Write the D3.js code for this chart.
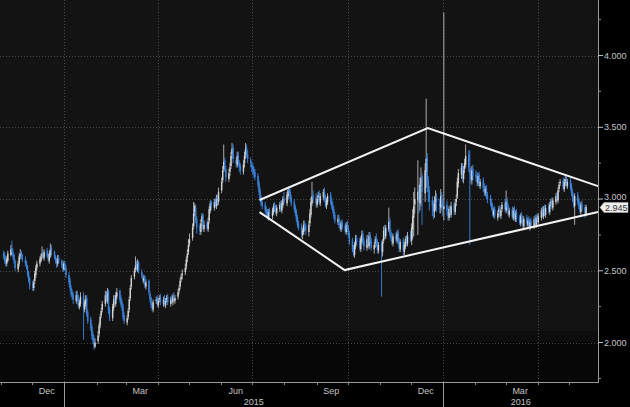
<!DOCTYPE html>
<html><head><meta charset="utf-8">
<script src="https://cdn.jsdelivr.net/npm/d3@7"></script>
<style>html,body{margin:0;padding:0;background:#000;} svg{display:block;}</style>
</head><body><svg id="c" width="630" height="407"></svg>
<script>
// ---------- DATA ----------
const months = ["2014-11","2014-12","2015-01","2015-02","2015-03","2015-04","2015-05","2015-06","2015-07","2015-08","2015-09","2015-10","2015-11","2015-12","2016-01","2016-02","2016-03","2016-04","2016-05"];

const open = [
 [2.62,2.61,2.58,2.55,2.57,2.61,2.66,2.63,2.61,2.57,2.51,2.55,2.60,2.63,2.61,2.58,2.56,2.53,2.49,2.45],
 [2.41,2.38,2.43,2.47,2.52,2.55,2.57,2.60,2.63,2.59,2.64,2.61,2.57,2.61,2.66,2.63,2.60,2.58,2.55,2.59,2.57,2.55,2.51],
 [2.55,2.52,2.47,2.43,2.38,2.35,2.33,2.29,2.34,2.31,2.25,2.27,2.33,2.23,2.27,2.31,2.21,2.16,2.11,2.06,2.03,1.97],
 [2.01,2.06,2.12,2.19,2.23,2.27,2.34,2.29,2.36,2.23,2.17,2.24,2.31,2.27,2.32,2.36,2.31,2.28,2.25,2.19],
 [2.14,2.18,2.23,2.31,2.39,2.46,2.51,2.55,2.51,2.56,2.49,2.46,2.43,2.46,2.39,2.43,2.34,2.31,2.27,2.23,2.29,2.31],
 [2.26,2.30,2.32,2.27,2.31,2.26,2.30,2.32,2.27,2.31,2.28,2.33,2.29,2.32,2.36,2.39,2.44,2.47,2.49,2.53,2.59,2.63],
 [2.69,2.73,2.81,2.91,2.94,2.86,2.81,2.77,2.84,2.89,2.79,2.83,2.79,2.85,2.92,2.98,2.94,2.99,2.95,3.01,2.98],
 [3.06,3.13,3.21,3.27,3.21,3.14,3.19,3.23,3.31,3.36,3.27,3.24,3.31,3.25,3.23,3.19,3.25,3.31,3.36,3.31,3.27,3.24],
 [3.23,3.21,3.19,3.16,3.11,3.06,3.01,2.98,2.96,2.93,2.91,2.87,2.92,2.88,2.91,2.96,2.94,2.90,2.93,2.97,2.92,2.96,3.01],
 [2.97,3.02,3.07,3.05,3.01,2.98,2.94,2.91,2.87,2.83,2.81,2.75,2.77,2.83,2.81,2.77,2.83,2.89,2.97,3.03,3.01],
 [2.96,3.01,3.04,2.97,3.01,3.06,3.01,2.95,2.98,3.03,2.99,2.96,2.93,2.89,2.84,2.87,2.83,2.79,2.84,2.81,2.77,2.83],
 [2.80,2.76,2.71,2.66,2.61,2.67,2.73,2.71,2.65,2.71,2.76,2.71,2.66,2.73,2.67,2.75,2.71,2.65,2.69,2.73,2.70,2.64],
 [2.69,2.63,2.71,2.79,2.74,2.79,2.85,2.77,2.74,2.69,2.75,2.71,2.77,2.71,2.65,2.71,2.63,2.67,2.73,2.69,2.75],
 [2.71,2.79,2.87,2.96,2.99,3.06,2.97,3.09,3.16,3.04,3.19,3.29,3.13,3.06,2.99,2.96,2.91,2.98,3.01,2.97,2.94,3.03,2.97],
 [2.93,2.96,2.91,2.87,2.94,2.89,2.96,2.91,2.98,3.02,3.11,3.17,3.23,3.14,3.21,3.24,3.31,3.21,3.19,3.13,3.21],
 [3.17,3.16,3.11,3.17,3.09,3.13,3.09,3.04,3.08,3.03,3.01,2.98,2.95,2.89,2.93,2.87,2.91,2.94,2.88,2.93,2.97],
 [2.92,2.99,2.95,2.89,2.93,2.87,2.93,2.86,2.91,2.87,2.83,2.89,2.86,2.81,2.87,2.82,2.86,2.80,2.85,2.81,2.87,2.82,2.88],
 [2.84,2.87,2.93,2.88,2.94,2.89,2.95,2.91,2.97,2.99,2.94,2.98,3.03,2.99,3.07,3.11,3.13,3.07,3.11,3.15,3.09],
 [3.13,3.09,3.05,3.01,2.95,3.03,2.99,2.96,2.91,2.97,2.94,2.89]
];
const high = [
 [2.64,2.63,2.60,2.60,2.64,2.68,2.71,2.65,2.62,2.58,2.57,2.62,2.65,2.64,2.62,2.60,2.57,2.54,2.50,2.46],
 [2.43,2.44,2.50,2.54,2.57,2.60,2.62,2.67,2.64,2.65,2.66,2.62,2.64,2.69,2.68,2.64,2.61,2.59,2.61,2.61,2.58,2.56,2.57],
 [2.57,2.54,2.49,2.45,2.40,2.37,2.35,2.36,2.36,2.33,2.30,2.35,2.35,2.30,2.33,2.33,2.23,2.18,2.13,2.08,2.05,2.03],
 [2.08,2.14,2.20,2.24,2.29,2.36,2.36,2.38,2.37,2.25,2.27,2.33,2.33,2.35,2.38,2.37,2.33,2.30,2.27,2.21],
 [2.19,2.24,2.32,2.40,2.47,2.52,2.60,2.57,2.58,2.57,2.51,2.48,2.47,2.47,2.44,2.44,2.36,2.32,2.29,2.30,2.32,2.33],
 [2.31,2.33,2.34,2.32,2.33,2.31,2.33,2.34,2.32,2.33,2.34,2.35,2.33,2.37,2.40,2.45,2.48,2.51,2.55,2.60,2.65,2.72],
 [2.76,2.83,2.98,2.97,2.96,2.88,2.83,2.86,2.90,2.90,2.85,2.85,2.87,2.95,2.99,2.99,3.00,3.01,3.03,3.03,3.08],
 [3.15,3.23,3.38,3.29,3.23,3.21,3.25,3.33,3.39,3.38,3.29,3.33,3.33,3.27,3.25,3.27,3.33,3.39,3.38,3.34,3.29,3.26],
 [3.25,3.23,3.21,3.18,3.13,3.08,3.03,3.00,2.98,2.95,2.93,2.93,2.94,2.94,2.97,2.98,2.96,2.96,2.98,2.99,2.99,3.02,3.05],
 [3.05,3.08,3.09,3.07,3.03,3.00,2.96,2.93,2.89,2.85,2.83,2.80,2.85,2.85,2.83,2.85,2.93,3.01,3.12,3.06,3.04],
 [3.02,3.05,3.06,3.04,3.07,3.08,3.03,3.01,3.04,3.05,3.01,2.98,2.95,2.91,2.89,2.89,2.85,2.85,2.86,2.83,2.84,2.85],
 [2.82,2.78,2.73,2.68,2.70,2.75,2.75,2.73,2.74,2.78,2.78,2.73,2.75,2.75,2.77,2.77,2.73,2.70,2.74,2.76,2.72,2.70],
 [2.71,2.72,2.81,2.82,2.82,2.94,2.87,2.79,2.76,2.76,2.77,2.78,2.79,2.73,2.72,2.73,2.70,2.74,2.75,2.77,2.78],
 [2.83,2.93,3.05,3.08,3.27,3.10,3.15,3.22,3.18,3.25,3.70,3.32,3.16,3.09,3.02,2.99,3.02,3.06,3.04,3.00,3.07,3.05,3.00],
 [4.30,2.99,2.94,2.95,2.96,2.98,2.98,3.00,3.03,3.15,3.21,3.25,3.25,3.23,3.28,3.38,3.34,3.34,3.22,3.23,3.24],
 [3.20,3.19,3.18,3.19,3.14,3.15,3.11,3.09,3.10,3.05,3.03,3.00,2.97,2.94,2.95,2.92,2.95,2.96,2.94,2.98,3.00],
 [3.06,3.01,2.97,2.94,2.95,2.94,2.95,2.92,2.93,2.89,2.90,2.91,2.88,2.88,2.89,2.87,2.88,2.86,2.87,2.88,2.89,2.89,2.90],
 [2.90,2.94,2.95,2.95,2.96,2.96,2.97,2.98,3.00,3.01,3.01,3.04,3.05,3.08,3.12,3.14,3.15,3.14,3.16,3.17,3.14],
 [3.15,3.11,3.07,3.03,3.04,3.05,3.01,2.98,2.98,2.99,2.96,2.96]
];
const low = [
 [2.58,2.55,2.53,2.53,2.56,2.60,2.61,2.58,2.55,2.50,2.49,2.53,2.58,2.58,2.56,2.53,2.51,2.46,2.42,2.37],
 [2.36,2.36,2.41,2.45,2.50,2.53,2.56,2.58,2.58,2.57,2.59,2.56,2.55,2.59,2.60,2.58,2.55,2.52,2.53,2.55,2.52,2.49,2.50],
 [2.50,2.45,2.40,2.36,2.32,2.30,2.27,2.27,2.28,2.24,2.23,2.25,2.02,2.21,2.25,2.18,2.13,2.08,2.02,1.99,1.95,1.96],
 [1.99,2.04,2.10,2.17,2.21,2.25,2.28,2.27,2.20,2.15,2.15,2.22,2.26,2.25,2.30,2.28,2.25,2.22,2.16,2.13],
 [2.12,2.16,2.21,2.29,2.37,2.44,2.49,2.50,2.49,2.48,2.45,2.42,2.41,2.38,2.37,2.33,2.28,2.24,2.22,2.21,2.27,2.25],
 [2.24,2.28,2.26,2.25,2.25,2.24,2.28,2.26,2.25,2.27,2.26,2.28,2.27,2.30,2.34,2.37,2.42,2.44,2.47,2.51,2.56,2.61],
 [2.67,2.71,2.79,2.88,2.83,2.76,2.75,2.75,2.81,2.78,2.77,2.78,2.77,2.83,2.90,2.92,2.92,2.94,2.93,2.95,2.96],
 [3.04,3.11,3.19,3.19,3.12,3.12,3.16,3.21,3.28,3.25,3.22,3.22,3.23,3.19,3.17,3.17,3.22,3.28,3.29,3.25,3.22,3.19],
 [3.17,3.15,3.13,3.08,3.03,2.98,2.95,2.93,2.90,2.88,2.86,2.85,2.87,2.86,2.89,2.91,2.89,2.88,2.91,2.91,2.90,2.94,2.96],
 [2.95,3.00,3.02,2.98,2.95,2.91,2.88,2.84,2.80,2.78,2.73,2.72,2.75,2.78,2.75,2.74,2.81,2.87,2.95,2.97,2.94],
 [2.94,2.99,2.96,2.95,2.99,2.98,2.94,2.93,2.96,2.96,2.93,2.90,2.86,2.83,2.82,2.80,2.78,2.77,2.78,2.76,2.75,2.77],
 [2.73,2.68,2.63,2.60,2.59,2.65,2.68,2.64,2.63,2.69,2.68,2.64,2.64,2.66,2.65,2.68,2.64,2.62,2.66,2.67,2.62,2.62],
 [2.32,2.60,2.69,2.72,2.72,2.77,2.74,2.71,2.68,2.67,2.70,2.69,2.68,2.63,2.63,2.61,2.61,2.65,2.67,2.67,2.70],
 [2.68,2.72,2.74,2.90,2.75,2.90,2.92,2.95,2.82,2.98,3.08,3.05,2.98,2.92,2.88,2.86,2.87,2.92,2.91,2.90,2.90,2.92,2.88],
 [2.85,2.89,2.85,2.85,2.87,2.87,2.89,2.89,2.95,3.00,3.08,3.14,3.12,3.11,3.18,3.22,3.19,2.68,3.11,3.10,3.13],
 [3.12,3.09,3.09,3.08,3.07,3.05,3.02,3.02,3.00,2.97,2.95,2.92,2.88,2.87,2.86,2.85,2.88,2.87,2.86,2.91,2.91],
 [2.90,2.92,2.88,2.87,2.86,2.85,2.85,2.84,2.84,2.82,2.81,2.83,2.80,2.79,2.81,2.80,2.79,2.78,2.80,2.79,2.81,2.80,2.83],
 [2.82,2.85,2.87,2.86,2.88,2.87,2.90,2.89,2.95,2.93,2.92,2.96,2.98,2.97,3.05,3.09,3.06,3.05,3.09,3.08,3.07],
 [3.06,3.02,2.98,2.94,2.82,2.96,2.93,2.90,2.89,2.91,2.87,2.88]
];
const close = [
 [2.60,2.57,2.55,2.58,2.62,2.65,2.63,2.60,2.57,2.52,2.55,2.60,2.62,2.60,2.58,2.55,2.53,2.48,2.44,2.40],
 [2.38,2.42,2.48,2.52,2.55,2.58,2.60,2.62,2.60,2.63,2.60,2.58,2.62,2.65,2.62,2.60,2.57,2.55,2.58,2.57,2.54,2.52,2.55],
 [2.52,2.47,2.42,2.38,2.34,2.32,2.30,2.33,2.30,2.26,2.28,2.32,2.24,2.28,2.30,2.20,2.15,2.10,2.05,2.02,1.98,2.00],
 [2.05,2.12,2.18,2.22,2.27,2.33,2.30,2.35,2.22,2.18,2.25,2.30,2.28,2.33,2.35,2.30,2.27,2.24,2.18,2.15],
 [2.17,2.22,2.30,2.38,2.45,2.50,2.54,2.52,2.55,2.50,2.47,2.44,2.45,2.40,2.42,2.35,2.30,2.26,2.24,2.28,2.30,2.27],
 [2.29,2.31,2.28,2.30,2.27,2.29,2.31,2.28,2.30,2.29,2.32,2.30,2.31,2.35,2.38,2.43,2.46,2.48,2.52,2.58,2.62,2.68],
 [2.72,2.80,2.90,2.95,2.85,2.80,2.78,2.83,2.88,2.80,2.82,2.80,2.84,2.93,2.97,2.95,2.98,2.96,3.00,2.97,3.05],
 [3.12,3.20,3.26,3.22,3.15,3.18,3.22,3.30,3.35,3.28,3.25,3.30,3.26,3.22,3.20,3.24,3.30,3.35,3.32,3.28,3.25,3.22],
 [3.20,3.18,3.15,3.10,3.05,3.00,2.97,2.95,2.92,2.90,2.88,2.91,2.89,2.92,2.95,2.93,2.91,2.94,2.96,2.93,2.97,3.00,2.98],
 [3.03,3.06,3.04,3.00,2.97,2.93,2.90,2.86,2.82,2.80,2.76,2.78,2.82,2.80,2.78,2.82,2.90,2.98,3.02,3.00,2.97],
 [3.00,3.03,2.98,3.02,3.05,3.00,2.96,2.99,3.02,2.98,2.95,2.92,2.88,2.85,2.86,2.82,2.80,2.83,2.80,2.78,2.82,2.79],
 [2.75,2.70,2.65,2.62,2.68,2.72,2.70,2.66,2.72,2.75,2.70,2.67,2.72,2.68,2.74,2.70,2.66,2.68,2.72,2.69,2.65,2.68],
 [2.64,2.70,2.78,2.75,2.80,2.84,2.76,2.73,2.70,2.74,2.72,2.76,2.70,2.66,2.70,2.64,2.68,2.72,2.70,2.74,2.72],
 [2.80,2.88,2.95,3.00,3.05,2.98,3.10,3.15,3.05,3.20,3.28,3.12,3.05,2.98,2.95,2.92,2.97,3.00,2.98,2.95,3.02,2.96,2.94],
 [2.95,2.92,2.88,2.93,2.90,2.95,2.92,2.97,3.00,3.12,3.18,3.22,3.15,3.20,3.25,3.30,3.22,3.18,3.14,3.20,3.16],
 [3.15,3.12,3.16,3.10,3.12,3.08,3.05,3.07,3.02,3.00,2.97,2.94,2.90,2.92,2.88,2.90,2.93,2.89,2.92,2.96,2.93],
 [2.98,2.94,2.90,2.92,2.88,2.92,2.87,2.90,2.86,2.84,2.88,2.85,2.82,2.86,2.83,2.85,2.81,2.84,2.82,2.86,2.83,2.87,2.85],
 [2.88,2.92,2.89,2.93,2.90,2.94,2.92,2.96,2.98,2.95,2.99,3.02,3.00,3.06,3.10,3.12,3.08,3.12,3.14,3.10,3.12],
 [3.08,3.04,3.00,2.96,3.02,2.98,2.95,2.92,2.96,2.93,2.90,2.945]
];

const yTicks = [2.0, 2.5, 3.0, 3.5, 4.0];
const yMinor = [1.75, 2.25, 2.75, 3.25, 3.75, 4.25];
const monthLabels = [["2014-12","Dec"],["2015-03","Mar"],["2015-06","Jun"],["2015-09","Sep"],["2015-12","Dec"],["2016-03","Mar"]];
const yearLabels = ["2015","2016"];
const gridDates = ["2015-01-01","2015-04-01","2015-07-01","2015-10-01","2016-01-01","2016-04-01"];
const trendUpper = [["2015-07-08",2.993],["2015-12-17",3.495],["2016-05-29",3.09]];
const trendLower = [["2015-07-08",2.909],["2015-09-28",2.505],["2016-05-29",2.91]];
const lastLabel = "2.945";
// background shading bands (value ranges)
const bands = [[2.08, 4.387, "#131313"], [2.0, 2.08, "#0d0d0d"], [1.725, 2.0, "#070707"]];

// ---------- CHART ----------
const W = 630, H = 407, plotR = 598, plotB = 382;
const pd = s => { const [a,b,c] = s.split("-").map(Number); return new Date(Date.UTC(a,b-1,c||1)); };
const x = d3.scaleUtc().domain([pd("2014-10-31"), pd("2016-05-29")]).range([0, plotR]);
const y = d3.scaleLinear().domain([1.725, 4.387]).range([plotB, 0]);

const candles = [];
months.forEach((m, i) => {
  const [yy, mm] = m.split("-").map(Number);
  const n = close[i].length;
  if (open[i].length !== n || high[i].length !== n || low[i].length !== n) throw new Error("length mismatch " + m);
  let k = 0;
  for (let d = 1; d <= 31 && k < n; d++) {
    const dt = new Date(Date.UTC(yy, mm - 1, d));
    if (dt.getUTCMonth() !== mm - 1) break;
    const wd = dt.getUTCDay();
    if (wd === 0 || wd === 6) continue;
    candles.push({date: dt, o: open[i][k], h: high[i][k], l: low[i][k], c: close[i][k]});
    k++;
  }
  if (k !== n) throw new Error("too many days in " + m);
});

const svg = d3.select("#c");
svg.append("rect").attr("width", W).attr("height", H).attr("fill", "#000");
svg.selectAll("rect.band").data(bands).join("rect").attr("class", "band")
  .attr("x", 0).attr("width", plotR)
  .attr("y", d => y(d[1])).attr("height", d => y(d[0]) - y(d[1])).attr("fill", d => d[2]);

const grid = svg.append("g").attr("stroke", "#484848").attr("stroke-width", 1).attr("stroke-dasharray", "1,2");
grid.selectAll("line.h").data(yTicks).join("line")
  .attr("x1", 0).attr("x2", plotR).attr("y1", d => Math.round(y(d)) + 0.5).attr("y2", d => Math.round(y(d)) + 0.5);
grid.selectAll("line.v").data(gridDates).join("line")
  .attr("y1", 0).attr("y2", plotB).attr("x1", d => Math.round(x(pd(d))) + 0.5).attr("x2", d => Math.round(x(pd(d))) + 0.5);

const dayW = x(pd("2015-01-02")) - x(pd("2015-01-01"));
const upCol = "#d4d4d4", dnCol = "#3a82dc";
const cg = svg.append("g");
cg.selectAll("line").data(candles).join("line")
  .attr("x1", d => x(d.date) + dayW / 2).attr("x2", d => x(d.date) + dayW / 2)
  .attr("y1", d => y(d.h)).attr("y2", d => y(d.l))
  .attr("stroke", d => d.c >= d.o ? "#bcbcbc" : dnCol).attr("stroke-width", 0.9);
cg.selectAll("rect").data(candles).join("rect")
  .attr("x", d => x(d.date) + dayW / 2 - 0.7).attr("width", 1.4)
  .attr("y", d => y(Math.max(d.o, d.c)))
  .attr("height", d => Math.max(0.8, Math.abs(y(d.o) - y(d.c))))
  .attr("fill", d => d.c >= d.o ? upCol : dnCol);

// trend lines
const tl = d3.line().x(d => x(pd(d[0]))).y(d => y(d[1]));
[trendUpper, trendLower].forEach(t => {
  svg.append("path").attr("d", tl(t)).attr("fill", "none").attr("stroke", "#f2f2f2").attr("stroke-width", 2);
});

// right axis
const ax = svg.append("g").attr("font-family", "Liberation Sans, Arial, sans-serif").attr("font-size", 9).attr("fill", "#c4c4c4");
ax.append("line").attr("x1", plotR + 0.5).attr("x2", plotR + 0.5).attr("y1", 0).attr("y2", plotB).attr("stroke", "#9a9a9a");
ax.selectAll("line.mj").data(yTicks).join("line").attr("class", "mj")
  .attr("x1", plotR).attr("x2", plotR + 5).attr("y1", d => y(d)).attr("y2", d => y(d)).attr("stroke", "#c4c4c4");
ax.selectAll("line.mn").data(yMinor).join("line").attr("class", "mn")
  .attr("x1", plotR).attr("x2", plotR + 3).attr("y1", d => y(d)).attr("y2", d => y(d)).attr("stroke", "#8a8a8a");
ax.selectAll("text.yl").data(yTicks).join("text").attr("class", "yl")
  .attr("x", plotR + 6).attr("y", d => y(d) - (d === 3 ? 2 : 0)).attr("dy", "0.35em").text(d => d3.format(".3f")(d));

// bottom axis
ax.append("line").attr("x1", 0).attr("x2", plotR + 1).attr("y1", plotB + 0.5).attr("y2", plotB + 0.5).attr("stroke", "#9a9a9a");
const monthStarts = d3.utcMonth.range(pd("2014-11-01"), pd("2016-06-01"));
ax.selectAll("line.mt").data(monthStarts).join("line").attr("class", "mt")
  .attr("x1", d => Math.round(x(d)) + 0.5).attr("x2", d => Math.round(x(d)) + 0.5)
  .attr("y1", plotB).attr("y2", plotB + 3).attr("stroke", "#8a8a8a");
ax.selectAll("text.ml").data(monthLabels).join("text").attr("class", "ml")
  .attr("x", d => x(d3.utcDay.offset(pd(d[0]), 14))).attr("y", plotB + 12)
  .attr("text-anchor", "middle").text(d => d[1]);
// year separators and labels
const yearStarts = [pd("2015-01-01"), pd("2016-01-01")];
ax.selectAll("line.ys").data(yearStarts).join("line").attr("class", "ys")
  .attr("x1", d => Math.round(x(d)) + 0.5).attr("x2", d => Math.round(x(d)) + 0.5)
  .attr("y1", plotB).attr("y2", H).attr("stroke", "#9a9a9a");
const yearSpans = [[pd("2015-01-01"), pd("2016-01-01")], [pd("2016-01-01"), x.domain()[1]]];
ax.selectAll("text.yr").data(yearLabels).join("text").attr("class", "yr")
  .attr("x", (d, i) => (x(yearSpans[i][0]) + x(yearSpans[i][1])) / 2).attr("y", plotB + 23)
  .attr("text-anchor", "middle").text(d => d);

// last value tag
const last = candles[candles.length - 1];
const ly = y(last.c) + 0.5;
svg.append("path").attr("d", `M${plotR + 2},${ly} L${plotR + 6},${ly - 5} H${W - 2} V${ly + 5} H${plotR + 6} Z`)
  .attr("fill", "#ededed").attr("stroke", "#bdbdbd").attr("stroke-width", 0.5);
svg.append("text").attr("x", plotR + 7).attr("y", ly).attr("dy", "0.35em")
  .attr("font-family", "Liberation Sans, Arial, sans-serif").attr("font-size", 9).attr("fill", "#333").text(lastLabel);
</script></body></html>
